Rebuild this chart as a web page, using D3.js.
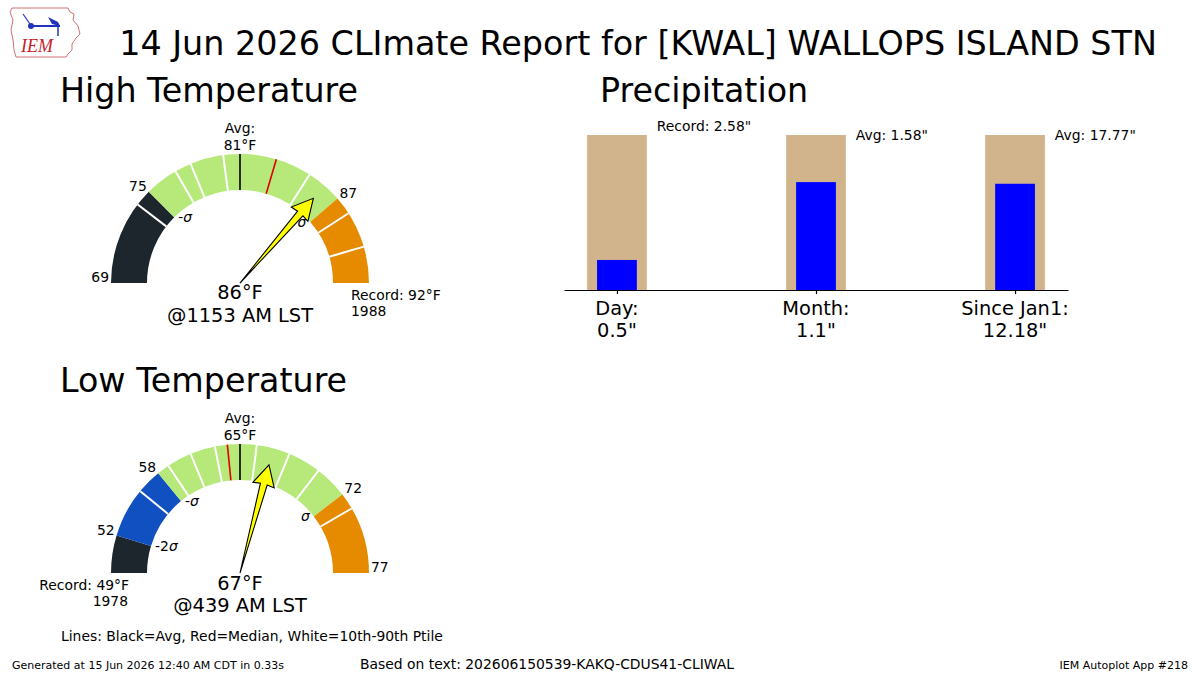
<!DOCTYPE html>
<html>
<head>
<meta charset="utf-8">
<script src="https://cdn.jsdelivr.net/npm/d3@7"></script>
<style>
  body { margin: 0; background: #fff; }
  text { font-family: "DejaVu Sans", sans-serif; fill: #000; }
</style>
</head>
<body>
<svg id="chart" width="1200" height="675"></svg>
<script>
// ---- high temperature gauge ----
var high_domain = [69, 81, 92];          // left end, avg (top), right end
var high_edges = [69, 75, 87, 92];       // band breaks
var high_colors = ["#1c262c", "#b6e87a", "#e68a00"];
var high_ptiles = [74, 77, 78, 80, 85, 88, 90];
var high_avg = 81, high_median = 83, high_obs = 86;
var high_sigma = [[75, "-", "σ"], [87, "", "σ"]];
var high_edge_labels = [69, 75, 87];

// ---- low temperature gauge ----
var low_domain = [49, 65, 77];
var low_edges = [49, 52, 58, 72, 77];
var low_colors = ["#1c262c", "#1050c0", "#b6e87a", "#e68a00"];
var low_ptiles = [56, 59, 61, 63, 66, 68, 70, 73];
var low_avg = 65, low_median = 64, low_obs = 67;
var low_sigma = [[52, "-2", "σ"], [58, "-", "σ"], [72, "", "σ"]];
var low_edge_labels = [52, 58, 72, 77];

// ---- precipitation ----
var precip_cats = ["Day:", "Month:", "Since Jan1:"];
var precip_obs = [0.5, 1.1, 12.18];
var precip_ref = [2.58, 1.58, 17.77];
var precip_ref_kind = ["Record", "Avg", "Avg"];

var svg = d3.select("#chart");
var small = "13.9px", mid = "19.4px", big = "33.3px";

// title
svg.append("text").attr("x", 638).attr("y", 55).attr("text-anchor", "middle")
  .style("font-size", "33.4px").text("14 Jun 2026 CLImate Report for [KWAL] WALLOPS ISLAND STN");

svg.append("text").attr("x", 60).attr("y", 102).style("font-size", big).text("High Temperature");
svg.append("text").attr("x", 600).attr("y", 102).style("font-size", big).text("Precipitation");
svg.append("text").attr("x", 60).attr("y", 392).style("font-size", big).text("Low Temperature");

// little IEM logo
var logo = svg.append("g");
logo.append("path")
  .attr("d", "M12,8 L68,8 L70,12 L74,14 L73,20 L78,26 L80,34 L76,38 L72,44 L72,50 L68,54 L66,57 L16,57 L14,50 L13,40 L11,30 L13,20 L10,12 Z")
  .attr("fill", "none").attr("stroke", "#d27070").attr("stroke-width", 1);
logo.append("line").attr("x1", 30).attr("y1", 26).attr("x2", 60).attr("y2", 26).attr("stroke", "#2233bb").attr("stroke-width", 2);
logo.append("circle").attr("cx", 31).attr("cy", 26).attr("r", 3).attr("fill", "#2233bb");
logo.append("path").attr("d", "M48,17 L58,22 L60,26 L52,24 Z").attr("fill", "#2233bb");
logo.append("line").attr("x1", 58).attr("y1", 26).attr("x2", 58).attr("y2", 36).attr("stroke", "#2233bb").attr("stroke-width", 1.5);
logo.append("line").attr("x1", 23).attr("y1", 14).attr("x2", 30).attr("y2", 24).attr("stroke", "#2233bb").attr("stroke-width", 1.2);
logo.append("text").attr("x", 21).attr("y", 52).style("font-family", "Liberation Serif, serif")
  .style("font-style", "italic").style("font-size", "18px").style("fill", "#c8202a").text("IEM");

function drawGauge(cx, cy, domain, edges, colors, ptiles, avg, median, obs, sigmas, edgeLabels) {
  var R = 129, r = 93;
  var ang = d3.scaleLinear().domain(domain).range([180, 90, 0]);
  var g = svg.append("g").attr("transform", "translate(" + cx + "," + cy + ")");
  function pt(v, rad) {
    var a = ang(v) * Math.PI / 180;
    return [rad * Math.cos(a), -rad * Math.sin(a)];
  }
  var arc = d3.arc().innerRadius(r).outerRadius(R);
  colors.forEach(function(c, i) {
    g.append("path")
      .attr("d", arc({ startAngle: (90 - ang(edges[i])) * Math.PI / 180,
                       endAngle: (90 - ang(edges[i + 1])) * Math.PI / 180 }))
      .attr("fill", c);
  });
  function radial(v, color, w) {
    var a = pt(v, r), b = pt(v, R);
    g.append("line").attr("x1", a[0]).attr("y1", a[1]).attr("x2", b[0]).attr("y2", b[1])
      .attr("stroke", color).attr("stroke-width", w);
  }
  ptiles.forEach(function(v) { radial(v, "#fff", 2); });
  radial(median, "#e00000", 1.6);
  radial(avg, "#000", 1.6);

  // avg label
  g.append("text").attr("x", 0).attr("y", -150).attr("text-anchor", "middle").style("font-size", small).text("Avg:");
  g.append("text").attr("x", 0).attr("y", -133).attr("text-anchor", "middle").style("font-size", small).text(avg + "°F");

  // outer edge labels
  edgeLabels.forEach(function(v) {
    var p = pt(v, R);
    var left = ang(v) > 90;
    g.append("text").attr("x", p[0] + (left ? -2 : 2)).attr("y", p[1] - 1)
      .attr("text-anchor", left ? "end" : "start").style("font-size", small).text(v);
  });

  // sigma labels inside
  sigmas.forEach(function(s) {
    var p = pt(s[0], r);
    var left = ang(s[0]) > 90;
    var t = g.append("text").attr("x", p[0] + (left ? 4 : -4)).attr("y", p[1] + 5)
      .attr("text-anchor", left ? "start" : "end").style("font-size", small);
    t.append("tspan").text(s[1]);
    t.append("tspan").style("font-style", "italic").text(s[2]);
  });

  // arrow
  var L = 112, hl = 20;
  g.append("path")
    .attr("d", "M0,0 L" + (L - hl) + ",-3.5 L" + (L - hl - 1) + ",-11 L" + L + ",0 L" + (L - hl - 1) + ",11 L" + (L - hl) + ",3.5 Z")
    .attr("transform", "rotate(" + (-ang(obs)) + ")")
    .attr("fill", "#ffff00").attr("stroke", "#000").attr("stroke-width", 1.1).attr("stroke-linejoin", "miter");
  return g;
}

var hg = drawGauge(240, 283, high_domain, high_edges, high_colors, high_ptiles,
  high_avg, high_median, high_obs, high_sigma, high_edge_labels);
hg.append("text").attr("x", 0).attr("y", 16).attr("text-anchor", "middle").style("font-size", mid).text(high_obs + "°F");
hg.append("text").attr("x", 0).attr("y", 39).attr("text-anchor", "middle").style("font-size", mid).text("@1153 AM LST");
hg.append("text").attr("x", 111).attr("y", 17).style("font-size", small).text("Record: " + high_domain[2] + "°F");
hg.append("text").attr("x", 111).attr("y", 33).style("font-size", small).text("1988");

var lg = drawGauge(240, 573, low_domain, low_edges, low_colors, low_ptiles,
  low_avg, low_median, low_obs, low_sigma, low_edge_labels);
lg.append("text").attr("x", 0).attr("y", 17).attr("text-anchor", "middle").style("font-size", mid).text(low_obs + "°F");
lg.append("text").attr("x", 0).attr("y", 39).attr("text-anchor", "middle").style("font-size", mid).text("@439 AM LST");
lg.append("text").attr("x", -111).attr("y", 17).attr("text-anchor", "end").style("font-size", small).text("Record: " + low_domain[0] + "°F");
lg.append("text").attr("x", -112).attr("y", 33).attr("text-anchor", "end").style("font-size", small).text("1978");

// ---- precipitation bars ----
var x = d3.scaleLinear().domain([-0.266, 2.266]).range([564, 1068]);
var y = d3.scaleLinear().domain([0, 1]).range([290, 135]);
var pg = svg.append("g");
var idx = d3.range(precip_cats.length);

pg.selectAll("rect.ref").data(idx).enter().append("rect")
  .attr("x", function(i) { return x(i - 0.15); })
  .attr("width", x(0.15) - x(-0.15))
  .attr("y", function(i) { return y(Math.max(1, precip_obs[i] / precip_ref[i])); })
  .attr("height", function(i) { return y(0) - y(Math.max(1, precip_obs[i] / precip_ref[i])); })
  .attr("fill", "#d2b48c");

pg.selectAll("rect.obs").data(idx).enter().append("rect")
  .attr("x", function(i) { return x(i - 0.1); })
  .attr("width", x(0.1) - x(-0.1))
  .attr("y", function(i) { return y(precip_obs[i] / precip_ref[i]); })
  .attr("height", function(i) { return y(0) - y(precip_obs[i] / precip_ref[i]); })
  .attr("fill", "#0000ff");

pg.selectAll("text.ref").data(idx).enter().append("text")
  .attr("x", function(i) { return x(i + 0.2); })
  .attr("y", function(i) { return precip_ref_kind[i] == "Record" ? y(1) - 4 : y(1) + 5; })
  .style("font-size", small)
  .text(function(i) { return precip_ref_kind[i] + ": " + precip_ref[i] + "\""; });

var axis = d3.axisBottom(x).tickValues(idx).tickFormat("").tickSize(4).tickSizeOuter(0);
pg.append("g").attr("transform", "translate(0,290)").call(axis)
  .call(function(a) { a.selectAll("path,line").attr("stroke", "#000").attr("stroke-width", 1.2); });

pg.selectAll("text.cat").data(idx).enter().append("text")
  .attr("x", function(i) { return x(i); }).attr("y", 315)
  .attr("text-anchor", "middle").style("font-size", mid)
  .text(function(i) { return precip_cats[i]; });
pg.selectAll("text.val").data(idx).enter().append("text")
  .attr("x", function(i) { return x(i); }).attr("y", 337)
  .attr("text-anchor", "middle").style("font-size", mid)
  .text(function(i) { return precip_obs[i] + "\""; });

// ---- footer ----
svg.append("text").attr("x", 61).attr("y", 641).style("font-size", small)
  .text("Lines: Black=Avg, Red=Median, White=10th-90th Ptile");
svg.append("text").attr("x", 12).attr("y", 669).style("font-size", "11px")
  .text("Generated at 15 Jun 2026 12:40 AM CDT in 0.33s");
svg.append("text").attr("x", 360).attr("y", 669).style("font-size", small)
  .text("Based on text: 202606150539-KAKQ-CDUS41-CLIWAL");
svg.append("text").attr("x", 1188).attr("y", 669).attr("text-anchor", "end").style("font-size", "11px")
  .text("IEM Autoplot App #218");
</script>
</body>
</html>
